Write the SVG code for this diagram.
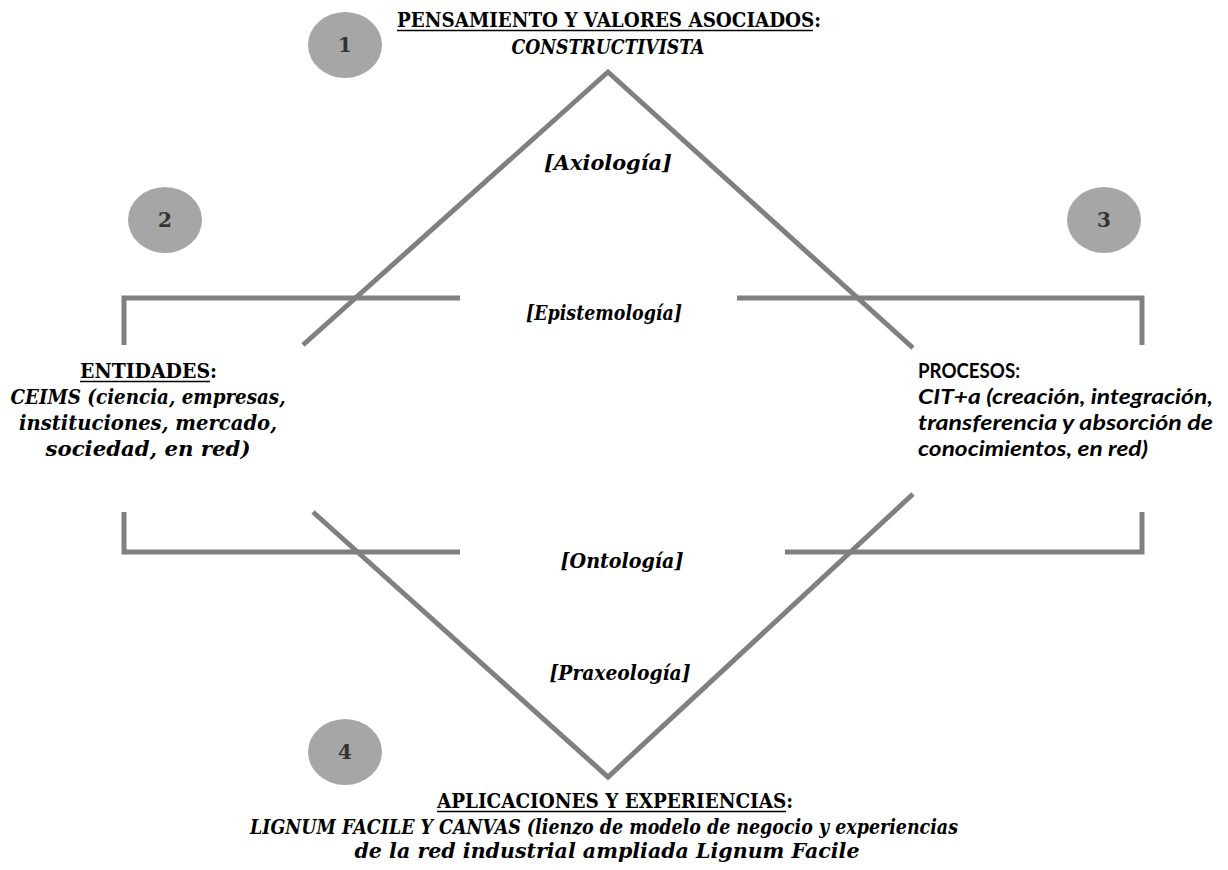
<svg xmlns="http://www.w3.org/2000/svg" width="1228" height="870" viewBox="0 0 1228 870">
<style>
.ln{stroke:#808080;stroke-width:5;fill:none;stroke-linejoin:miter;stroke-linecap:butt}
.ul{stroke:#000;stroke-width:1.5;fill:none}
.circ{fill:#a6a6a6}
.num{font-family:"DejaVu Serif","Liberation Serif",serif;font-weight:bold;font-size:20px;fill:#333;text-anchor:middle}
.sb{font-family:"DejaVu Serif","Liberation Serif",serif;font-weight:bold;font-size:21px;fill:#000}
.sbi{font-family:"DejaVu Serif","Liberation Serif",serif;font-weight:bold;font-style:italic;font-size:21px;fill:#000}
.cb{font-family:"Lato","Open Sans",sans-serif;font-weight:bold;font-size:21px;fill:#000}
.cbi{font-family:"Lato","Open Sans",sans-serif;font-weight:bold;font-style:italic;font-size:21px;fill:#000}
.m{text-anchor:middle}
</style>
<rect width="1228" height="870" fill="#fff"/>
<g id="connectors">
  <path class="ln" d="M303,345 L608,72 L913,348"/>
  <path class="ln" d="M313,512 L608,777 L913,494"/>
  <path class="ln" d="M124,345 V298 H460"/>
  <path class="ln" d="M124,512 V552 H460"/>
  <path class="ln" d="M737,298 H1142 V345"/>
  <path class="ln" d="M785,552 H1142 V512"/>
</g>
<g id="labels">
  <text class="sbi m" x="608" y="170" textLength="128" lengthAdjust="spacingAndGlyphs">[Axiología]</text>
  <text class="sbi m" x="604" y="320" textLength="156" lengthAdjust="spacingAndGlyphs">[Epistemología]</text>
  <text class="sbi m" x="622" y="568" textLength="123" lengthAdjust="spacingAndGlyphs">[Ontología]</text>
  <text class="sbi m" x="620" y="680" textLength="141" lengthAdjust="spacingAndGlyphs">[Praxeología]</text>
</g>
<g id="n1">
  <ellipse class="circ" cx="345" cy="45" rx="37" ry="33"/>
  <text class="num" x="345" y="52">1</text>
  <text class="sb" x="397" y="27" textLength="424" lengthAdjust="spacingAndGlyphs">PENSAMIENTO Y VALORES ASOCIADOS:</text>
  <path class="ul" d="M397,30.5 H813"/>
  <text class="sbi m" x="608" y="54" textLength="193" lengthAdjust="spacingAndGlyphs">CONSTRUCTIVISTA</text>
</g>
<g id="n2">
  <ellipse class="circ" cx="165" cy="220" rx="37" ry="33"/>
  <text class="num" x="165" y="227">2</text>
  <text class="sb" x="80" y="378" textLength="137" lengthAdjust="spacingAndGlyphs">ENTIDADES:</text>
  <path class="ul" d="M80,381.5 H210"/>
  <text class="sbi m" x="148" y="404" textLength="275" lengthAdjust="spacingAndGlyphs">CEIMS (ciencia, empresas,</text>
  <text class="sbi m" x="148" y="430" textLength="258" lengthAdjust="spacingAndGlyphs">instituciones, mercado,</text>
  <text class="sbi m" x="148" y="456" textLength="205" lengthAdjust="spacingAndGlyphs">sociedad, en red)</text>
</g>
<g id="n3">
  <ellipse class="circ" cx="1104" cy="220" rx="37" ry="33"/>
  <text class="num" x="1104" y="227">3</text>
  <text class="cb" x="918" y="378" textLength="102" lengthAdjust="spacingAndGlyphs">PROCESOS:</text>
  <text class="cbi" x="918" y="404" textLength="295" lengthAdjust="spacingAndGlyphs">CIT+a (creación, integración,</text>
  <text class="cbi" x="918" y="430" textLength="295" lengthAdjust="spacingAndGlyphs">transferencia y absorción de</text>
  <text class="cbi" x="918" y="456" textLength="230" lengthAdjust="spacingAndGlyphs">conocimientos, en red)</text>
</g>
<g id="n4">
  <ellipse class="circ" cx="345" cy="752" rx="37" ry="33"/>
  <text class="num" x="345" y="759">4</text>
  <text class="sb" x="437" y="808" textLength="356" lengthAdjust="spacingAndGlyphs">APLICACIONES Y EXPERIENCIAS:</text>
  <path class="ul" d="M437,811.5 H786"/>
  <text class="sbi m" x="604" y="834" textLength="708" lengthAdjust="spacingAndGlyphs">LIGNUM FACILE Y CANVAS (lienzo de modelo de negocio y experiencias</text>
  <text class="sbi m" x="607" y="858" textLength="505" lengthAdjust="spacingAndGlyphs">de la red industrial ampliada Lignum Facile</text>
</g>
</svg>
